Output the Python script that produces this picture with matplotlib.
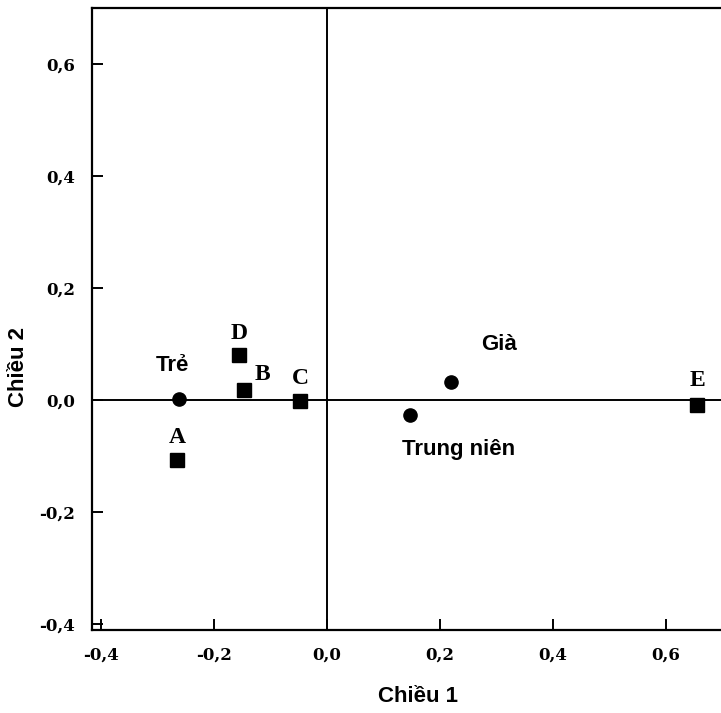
import matplotlib
matplotlib.use("Agg")
import matplotlib.pyplot as plt
from matplotlib.ticker import FuncFormatter

# age groups (circles)
age_names = ["Trẻ", "Trung niên", "Già"]
age_x = [-0.262, 0.147, 0.219]
age_y = [0.002, -0.026, 0.032]

# brands (squares)
brand_names = ["A", "B", "C", "D", "E"]
brand_x = [-0.265, -0.147, -0.048, -0.156, 0.655]
brand_y = [-0.107, 0.018, -0.002, 0.080, -0.009]

x_ticks = [-0.4, -0.2, 0.0, 0.2, 0.4, 0.6]
y_ticks = [-0.4, -0.2, 0.0, 0.2, 0.4, 0.6]

fig = plt.figure(figsize=(7.21, 7.13), dpi=100)
ax = fig.add_axes([92 / 721, 83 / 713, 629 / 721, 622 / 713])

ax.set_xlim(-0.416, 0.697)
ax.set_ylim(-0.41, 0.70)

ax.axhline(0, color="black", lw=1.4, zorder=1)
ax.axvline(0, color="black", lw=1.4, zorder=1)

ax.plot(age_x, age_y, "o", color="black", ms=9.5, zorder=3)
ax.plot(brand_x, brand_y, "s", color="black", ms=10, zorder=3)

# text offsets in points for each label
age_off = {"Trẻ": (-5, 24.5), "Trung niên": (34.5, -25), "Già": (35, 27)}
brand_off = {"A": (0, 16), "B": (13, 11), "C": (0, 16.5), "D": (0, 16), "E": (0, 18)}

sans = ["Liberation Sans", "DejaVu Sans"]
serif = ["Liberation Serif", "DejaVu Serif"]

for n, x, y in zip(age_names, age_x, age_y):
    ax.annotate(n, (x, y), xytext=age_off[n], textcoords="offset points",
                ha="center", va="center", fontsize=16, fontweight="bold",
                family=sans)
for n, x, y in zip(brand_names, brand_x, brand_y):
    ax.annotate(n, (x, y), xytext=brand_off[n], textcoords="offset points",
                ha="center", va="center", fontsize=17, fontweight="bold",
                family=serif)

fmt = FuncFormatter(lambda v, p: f"{v:.1f}".replace(".", ",").replace("-0,0", "0,0"))
ax.set_xticks(x_ticks)
ax.set_yticks(y_ticks)
ax.xaxis.set_major_formatter(fmt)
ax.yaxis.set_major_formatter(fmt)
ax.tick_params(direction="in", length=8, width=1.4, pad=12)
for lab in ax.get_xticklabels() + ax.get_yticklabels():
    lab.set_family(["DejaVu Serif"])
    lab.set_fontweight("bold")
    lab.set_fontsize(12)

for side in ["left", "bottom", "top"]:
    ax.spines[side].set_linewidth(1.6)
ax.spines["right"].set_visible(False)

fig.text(418 / 721, 1 - 696 / 713, "Chiều 1", ha="center", va="center",
         fontsize=16, fontweight="bold", family=sans)
fig.text(19 / 721, 1 - 367 / 713, "Chiều 2", ha="center", va="center",
         rotation=90, fontsize=16, fontweight="bold", family=sans)

fig.savefig("out.png", dpi=100)
